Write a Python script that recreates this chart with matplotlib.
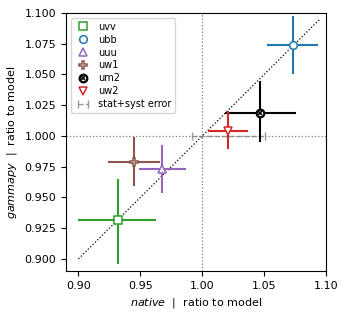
import matplotlib
matplotlib.use('Agg')
import matplotlib.pyplot as plt
import numpy as np

plt.rcParams.update({'font.size': 8})

# Values
labels = ['uvv', 'ubb', 'uuu', 'uw1', 'um2', 'uw2']
colors = ['#2ca02c', '#1f77b4', '#9467bd', '#8c564b', 'k', '#d62728']
markers = ['s', 'o', '^', 'P', 'ox', 'v']

x_native = np.array([0.9316, 1.0730, 0.9678, 0.9445, 1.0466, 1.0205])
x_err_lo = np.array([0.0316, 0.0206, 0.0189, 0.0205, 0.0283, 0.0158])
x_err_hi = np.array([0.0314, 0.0208, 0.0189, 0.0211, 0.0289, 0.0166])
y_gammapy = np.array([0.9313, 1.0742, 0.9730, 0.9788, 1.0190, 1.0040])
y_err_lo = np.array([0.0353, 0.0236, 0.0192, 0.0195, 0.0240, 0.0150])
y_err_hi = np.array([0.0337, 0.0231, 0.0200, 0.0205, 0.0253, 0.0160])

# stat+syst error band
syst_x = 1.021
syst_y = 1.0
syst_err = 0.0295

fig = plt.figure(figsize=(3.48, 3.16), dpi=100)
ax = fig.add_axes([0.19, 0.142, 0.747, 0.817])

ax.axvline(1.0, color='grey', ls=':', lw=0.9, zorder=1)
ax.axhline(1.0, color='grey', ls=':', lw=0.9, zorder=1)
ax.plot([0.9, 1.095], [0.9, 1.095], color='k', ls=':', lw=0.9, zorder=1)

eb = ax.errorbar(syst_x, syst_y, xerr=syst_err, fmt='none', ecolor='grey',
                 capsize=3, elinewidth=1.0, alpha=0.8, zorder=2)
eb[-1][0].set_linestyle('--')

handles = []
for i in range(len(labels)):
    ax.errorbar(x_native[i], y_gammapy[i],
                xerr=[[x_err_lo[i]], [x_err_hi[i]]],
                yerr=[[y_err_lo[i]], [y_err_hi[i]]],
                fmt='none', ecolor=colors[i], elinewidth=1.5, zorder=3)
    if markers[i] == 'ox':
        h1, = ax.plot(x_native[i], y_gammapy[i], ls='none', marker='o',
                      mfc='white', mec=colors[i], mew=1.6, ms=5.5, zorder=4)
        h2, = ax.plot(x_native[i], y_gammapy[i], ls='none', marker='x',
                      color=colors[i], mew=1.2, ms=3.5, zorder=5)
        handles.append((h1, h2))
    else:
        h, = ax.plot(x_native[i], y_gammapy[i], ls='none', marker=markers[i],
                     mfc='white', mec=colors[i], mew=1.1, ms=5.5, zorder=4)
        handles.append(h)

handles.append(eb)
ax.legend(handles, labels + ['stat+syst error'],
          loc='upper left', fontsize=7, handlelength=1.6, labelspacing=0.3)

ax.set_xlim(0.89, 1.10)
ax.set_ylim(0.89, 1.10)
ax.set_xticks([0.90, 0.95, 1.00, 1.05, 1.10])
ax.set_yticks([0.900, 0.925, 0.950, 0.975, 1.000, 1.025, 1.050, 1.075, 1.100])
ax.set_yticklabels(['%.3f' % v for v in ax.get_yticks()])
ax.set_xlabel(r'$\it{native}$  |  ratio to model')
ax.set_ylabel(r'$\it{gammapy}$  |  ratio to model')

fig.savefig('out.png', dpi=100)
